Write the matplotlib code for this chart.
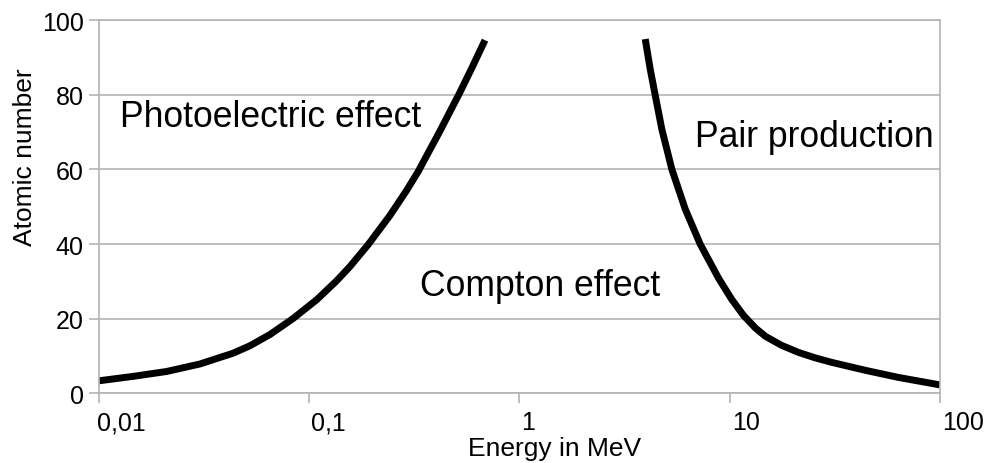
import numpy as np
import matplotlib
matplotlib.use('Agg')
import matplotlib.pyplot as plt
import matplotlib.transforms as mtransforms

plt.rcParams['font.family'] = ['Liberation Sans', 'DejaVu Sans']

# photoelectric / compton boundary
pe_energy = [0.01, 0.0146, 0.021, 0.0302, 0.0435, 0.0523, 0.0651, 0.0839, 0.1085,
             0.1351, 0.1562, 0.1909, 0.2422, 0.2907, 0.3302, 0.4188, 0.5172,
             0.5927, 0.6855]
pe_z = [3.4, 4.6, 5.9, 7.9, 10.8, 12.8, 15.8, 20.1, 25.1,
        30.2, 34.0, 39.9, 47.7, 54.4, 59.5, 70.3, 80.3,
        87.1, 94.6]

# compton / pair production boundary
pp_energy = [3.963, 4.184, 4.42, 4.752, 5.301, 6.14, 7.236, 8.84, 10.19, 11.63,
             13.26, 14.79, 17.63, 21.23, 25.3, 30.47, 44.22, 63.47, 100]
pp_z = [94.9, 86.9, 79.9, 70.8, 60.1, 49.4, 40.0, 30.9, 25.3, 20.9,
        17.5, 15.3, 12.9, 11.0, 9.6, 8.35, 6.2, 4.3, 2.3]

xticks = [0.01, 0.1, 1, 10, 100]
xtick_labels = ['0,01', '0,1', '1', '10', '100']
yticks = [0, 20, 40, 60, 80, 100]

labels = ['Photoelectric effect', 'Compton effect', 'Pair production']
label_pos = [(0.0126, 71.6), (0.337, 26.3), (6.84, 66.3)]

fig = plt.figure(figsize=(9.88, 4.64), dpi=100)
ax = fig.add_axes([0.1002, 0.1498, 0.8512, 0.8049])

grey = '#b3b3b3'
ax.plot(pe_energy, pe_z, color='black', lw=5, solid_capstyle='butt', solid_joinstyle='round')
ax.plot(pp_energy, pp_z, color='black', lw=5, solid_capstyle='butt', solid_joinstyle='round')

ax.set_xscale('log')
ax.set_xlim(0.01, 100)
ax.set_ylim(0, 100)
ax.set_xticks(xticks)
ax.set_xticklabels(xtick_labels)
ax.minorticks_off()
ax.set_yticks(yticks)

ax.yaxis.grid(True, color=grey, lw=1.2)
ax.set_axisbelow(True)
for s in ax.spines.values():
    s.set_color(grey)
    s.set_linewidth(1.2)
ax.tick_params(axis='both', colors=grey, labelcolor='black', labelsize=18,
               length=7, width=1.2)
ax.tick_params(axis='x', pad=5)
ax.tick_params(axis='y', pad=4)

# tick labels sit just right of their ticks
for i, lab in enumerate(ax.get_xticklabels()):
    dx = -2 if i == 0 else 2
    shift = mtransforms.ScaledTranslation(dx / 100, 0, fig.dpi_scale_trans)
    lab.set_ha('left')
    lab.set_transform(lab.get_transform() + shift)

for txt, (x, y) in zip(labels, label_pos):
    ax.text(x, y, txt, fontsize=25.6, ha='left', va='baseline')

ax.set_xlabel('Energy in MeV', fontsize=19)
ax.set_ylabel('Atomic number', fontsize=19)
ax.xaxis.set_label_coords(0.542, -0.1138)
ax.yaxis.set_label_coords(-0.0737, 0.6345)

plt.savefig('out.png', dpi=100)
